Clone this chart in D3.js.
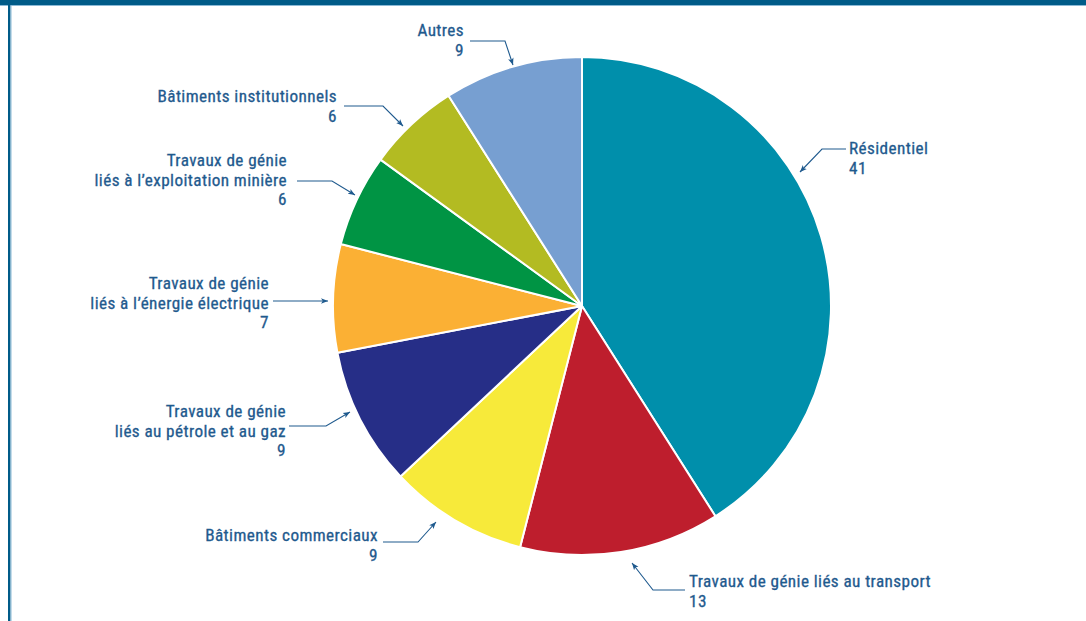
<!DOCTYPE html>
<html>
<head>
<meta charset="utf-8">
<script src="https://cdn.jsdelivr.net/npm/d3@7"></script>
<style>
  html, body { margin: 0; padding: 0; background: #fff; }
  svg { display: block; }
</style>
</head>
<body>
<div id="chart"></div>
<script>
// Pie chart - share of construction by sector (%)

const categories = [
  "Résidentiel",
  "Travaux de génie liés au transport",
  "Bâtiments commerciaux",
  "Travaux de génie liés au pétrole et au gaz",
  "Travaux de génie liés à l’énergie électrique",
  "Travaux de génie liés à l’exploitation minière",
  "Bâtiments institutionnels",
  "Autres"
];
const values = [41, 13, 9, 9, 7, 6, 6, 9];
const colors = ["#008fab", "#be1e2d", "#f7ea3a", "#262e87", "#fbb034", "#009444", "#b3bb22", "#779fd1"];

// how each label breaks into lines (value is added as last line)
const labelLines = [
  ["Résidentiel"],
  ["Travaux de génie liés au transport"],
  ["Bâtiments commerciaux"],
  ["Travaux de génie", "liés au pétrole et au gaz"],
  ["Travaux de génie", "liés à l’énergie électrique"],
  ["Travaux de génie", "liés à l’exploitation minière"],
  ["Bâtiments institutionnels"],
  ["Autres"]
];

// annotation layout: leader line points (start, elbow, tip) and text anchor
const labelLayout = [
  { pts: [[846, 149], [822, 149], [800, 172]], x: 849, y: 148, anchor: "start" },
  { pts: [[685, 590], [653, 590], [632, 563]], x: 689, y: 581, anchor: "start" },
  { pts: [[383, 542], [418, 542], [436, 522]], x: 378, y: 535, anchor: "end" },
  { pts: [[289, 426], [326, 426], [350, 412]], x: 286, y: 411, anchor: "end" },
  { pts: [[273, 301], [328, 301]],              x: 269, y: 283, anchor: "end" },
  { pts: [[297, 181], [332, 181], [355, 195]], x: 287, y: 160, anchor: "end" },
  { pts: [[344, 106], [383, 106], [403, 126]], x: 337, y: 96,  anchor: "end" },
  { pts: [[470, 41],  [505, 41],  [513, 65]],  x: 464, y: 30,  anchor: "end" }
];

const W = 1086, H = 621;
const cx = 582, cy = 306, R = 249;
const ink = "#1f5a8e";
const font = "'Roboto Condensed', 'Liberation Sans Narrow', sans-serif";

const svg = d3.select("#chart").append("svg")
  .attr("width", W).attr("height", H)
  .attr("viewBox", `0 0 ${W} ${H}`);

// frame: top band and left rule
svg.append("rect").attr("x", 0).attr("y", 0).attr("width", W).attr("height", 5).attr("fill", "#005b88");
svg.append("rect").attr("x", 0).attr("y", 5).attr("width", W).attr("height", 1).attr("fill", "#8bb9d6");
svg.append("rect").attr("x", 8).attr("y", 0).attr("width", 2.5).attr("height", H).attr("fill", "#005b88");
svg.append("rect").attr("x", 10.5).attr("y", 5).attr("width", 1).attr("height", H).attr("fill", "#8bb9d6");

svg.append("defs").append("marker")
  .attr("id", "arrow")
  .attr("viewBox", "0 0 10 10")
  .attr("refX", 10).attr("refY", 5)
  .attr("markerWidth", 7).attr("markerHeight", 7)
  .attr("markerUnits", "userSpaceOnUse")
  .attr("orient", "auto")
  .append("path")
    .attr("d", "M0,1 L10,5 L0,9 L2.5,5 Z")
    .attr("fill", ink);

const pie = d3.pie().sort(null).value(d => d);
const arc = d3.arc().innerRadius(0).outerRadius(R);

const g = svg.append("g").attr("transform", `translate(${cx},${cy})`);

g.selectAll("path.slice")
  .data(pie(values))
  .join("path")
    .attr("class", "slice")
    .attr("d", arc)
    .attr("fill", (d, i) => colors[i])
    .attr("stroke", "#fff")
    .attr("stroke-width", 2)
    .attr("stroke-linejoin", "round");

// labels + leaders
const line = d3.line();
categories.forEach((c, i) => {
  const lay = labelLayout[i];
  svg.append("path")
    .attr("d", line(lay.pts))
    .attr("fill", "none")
    .attr("stroke", ink)
    .attr("stroke-width", 1.1)
    .attr("marker-end", "url(#arrow)");

  const lines = labelLines[i].concat([String(values[i])]);
  const t = svg.append("text")
    .attr("text-anchor", lay.anchor)
    .attr("fill", ink)
    .attr("stroke", ink)
    .attr("stroke-width", 0.3)
    .attr("font-family", font)
    .attr("letter-spacing", "0.4px")
    .attr("font-size", "17.2px");
  lines.forEach((s, k) => {
    t.append("tspan")
      .attr("x", lay.x)
      .attr("y", lay.y + k * 19.6 + 6)
      .text(s);
  });
});
</script>
</body>
</html>
